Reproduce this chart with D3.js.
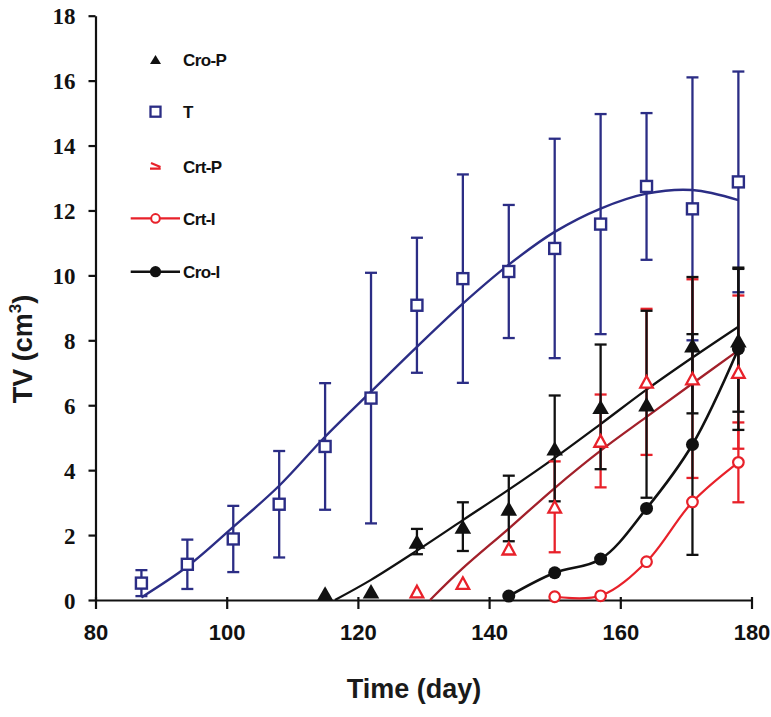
<!DOCTYPE html>
<html><head><meta charset="utf-8">
<script src="https://cdn.jsdelivr.net/npm/d3@7"></script>
<style>body{margin:0;background:#fff}svg{display:block}</style>
</head><body>
<script>
// ---------- data ----------
const xTicks = [80,100,120,140,160,180];
const yTicks = [0,2,4,6,8,10,12,14,16,18];

const tDays = [87,94,101,108,115,122,129,136,143,150,157,164,171,178];
const tMean = [0.52,1.1,1.88,2.95,4.73,6.22,9.08,9.9,10.12,10.83,11.58,12.74,12.05,12.88];
const tErr  = [0.4,0.76,1.02,1.64,1.95,3.86,2.08,3.21,2.05,3.38,3.39,2.26,4.05,3.4];
const tFitDays = [87,94,101,108,115,122,129,136,143,150,157,164,171,178];
const tFit     = [0.08,1.03,2.25,3.52,5.03,6.42,7.8,9.13,10.33,11.34,12.06,12.52,12.63,12.32];

const croPDays = [115,122,129,136,143,150,157,164,171,178];
const croPMean = [0.2,0.27,1.8,2.26,2.82,4.67,5.95,6.03,7.85,8.0];
const croPErr  = [0,0,0.39,0.75,1.01,1.63,1.92,2.88,2.1,2.2];
const croPFitDays = [116.5,122,129,136,143,150,157,164,171,178];
const croPFit     = [0,0.62,1.52,2.46,3.4,4.38,5.42,6.48,7.47,8.42];

const crtPDays = [129,136,143,150,157,164,171,178];
const crtPMean = [0.26,0.52,1.58,2.87,4.9,6.72,6.82,7.02];
const crtPErr  = [0,0,0,1.4,1.43,2.25,3.06,2.36];
const crtPFitDays = [131,136,143,150,157,164,171,178];
const crtPFit     = [0,0.98,2.2,3.45,4.6,5.64,6.67,7.69];

const croIDays = [143,150,157,164,171,178];
const croIMean = [0.12,0.84,1.26,2.82,4.79,7.74];
const croIErr  = [0,0,0,0,3.4,2.5];

const crtIDays = [150,157,164,171,178];
const crtIMean = [0.1,0.13,1.18,3.02,4.24];
const crtIErr  = [0,0,0,0,1.23];

const legendLabels = ["Cro-P","T","Crt-P","Crt-I","Cro-I"];

// ---------- styles ----------
const NAVY = "#2b2d85", RED = "#e8212a", DRED = "#a2202a", BLK = "#111";

const W = 771, H = 717;
const svg = d3.select("body").append("svg").attr("width", W).attr("height", H);
svg.append("rect").attr("width", W).attr("height", H).attr("fill", "#fff");

const x = d3.scaleLinear().domain([80,180]).range([95.5,751.5]);
const y = d3.scaleLinear().domain([0,18]).range([600,15.7]);

// axes
const xAxis = svg.append("g").attr("transform", "translate(0,600)")
  .call(d3.axisBottom(x).tickValues(xTicks).tickSize(9).tickSizeOuter(0).tickPadding(5));
xAxis.select(".domain").attr("stroke", BLK).attr("stroke-width", 2.2);
xAxis.selectAll(".tick line").attr("stroke", BLK).attr("stroke-width", 2.2).attr("y1", -3);
xAxis.selectAll(".tick text").attr("font-family", "Liberation Sans, Arial, sans-serif")
  .attr("font-weight", "bold").attr("font-size", 22).attr("fill", BLK).attr("dy", null).attr("y", 40);

const yAxis = svg.append("g").attr("transform", "translate(95.5,0)")
  .call(d3.axisLeft(y).tickValues(yTicks).tickSize(7).tickSizeOuter(0).tickPadding(13));
yAxis.select(".domain").attr("stroke", BLK).attr("stroke-width", 2.2);
yAxis.selectAll(".tick line").attr("stroke", BLK).attr("stroke-width", 2.2);
yAxis.selectAll(".tick text").attr("font-family", "Liberation Serif, Times New Roman, serif")
  .attr("font-weight", "bold").attr("font-size", 23).attr("fill", BLK).attr("dy", "0.36em");

// titles
svg.append("text").attr("x", 414).attr("y", 698).attr("text-anchor", "middle")
  .attr("font-family", "Liberation Sans, Arial, sans-serif").attr("font-weight", "bold")
  .attr("font-size", 27).attr("fill", "#1a1a1a").text("Time (day)");
const yt = svg.append("text").attr("transform", "translate(31.5,349) rotate(-90)")
  .attr("text-anchor", "middle").attr("font-family", "Liberation Sans, Arial, sans-serif")
  .attr("font-weight", "bold").attr("font-size", 27).attr("fill", "#1a1a1a");
yt.append("tspan").text("TV (cm");
yt.append("tspan").attr("font-size", 17).attr("dy", -11).text("3");
yt.append("tspan").attr("dy", 11).text(")");

// helpers
const zip = (a, b) => a.map((d, i) => [d, b[i]]);
const smooth = d3.line().x(d => x(d[0])).y(d => y(d[1])).curve(d3.curveCatmullRom.alpha(0.5));
const plot = svg.append("g");

function line(days, vals, color, w) {
  plot.append("path").attr("d", smooth(zip(days, vals))).attr("fill", "none")
    .attr("stroke", color).attr("stroke-width", w).attr("stroke-linejoin", "round");
}
function errBars(days, mean, err, color) {
  const g = plot.append("g").attr("stroke", color).attr("stroke-width", 2.3);
  days.forEach((d, i) => {
    if (!err[i]) return;
    const cx = x(d), t = y(mean[i] + err[i]), b = y(mean[i] - err[i]);
    g.append("line").attr("x1", cx).attr("x2", cx).attr("y1", t).attr("y2", b);
    g.append("line").attr("x1", cx - 6).attr("x2", cx + 6).attr("y1", t).attr("y2", t);
    g.append("line").attr("x1", cx - 6).attr("x2", cx + 6).attr("y1", b).attr("y2", b);
  });
}
const triPath = (hw, hh) => `M0,${-hh}L${hw},${hh}L${-hw},${hh}Z`;

// T series
line(tFitDays, tFit, NAVY, 2.4);
errBars(tDays, tMean, tErr, NAVY);
plot.append("g").selectAll("rect").data(zip(tDays, tMean)).join("rect")
  .attr("x", d => x(d[0]) - 5.5).attr("y", d => y(d[1]) - 5.5).attr("width", 11).attr("height", 11)
  .attr("fill", "#fff").attr("stroke", NAVY).attr("stroke-width", 2.4);

// trend lines
line(crtPFitDays, crtPFit, DRED, 2.3);
line(croPFitDays, croPFit, BLK, 2.3);
line(crtIDays, crtIMean, RED, 2.2);
line(croIDays, croIMean, BLK, 2.6);

// error bars
errBars(crtIDays, crtIMean, crtIErr, RED);
errBars(crtPDays, crtPMean, crtPErr, RED);
errBars(croIDays, croIMean, croIErr, BLK);
errBars(croPDays, croPMean, croPErr, BLK);

// markers
plot.append("g").selectAll("circle").data(zip(crtIDays, crtIMean)).join("circle")
  .attr("cx", d => x(d[0])).attr("cy", d => y(d[1])).attr("r", 5.3)
  .attr("fill", "#fff").attr("stroke", RED).attr("stroke-width", 2.2);
plot.append("g").selectAll("circle").data(zip(croIDays, croIMean)).join("circle")
  .attr("cx", d => x(d[0])).attr("cy", d => y(d[1])).attr("r", 6.5).attr("fill", BLK);
plot.append("g").selectAll("path").data(zip(crtPDays, crtPMean)).join("path")
  .attr("transform", d => `translate(${x(d[0])},${y(d[1])})`).attr("d", triPath(6.3, 5.8))
  .attr("fill", "#fff").attr("stroke", RED).attr("stroke-width", 2.3).attr("stroke-linejoin", "miter");
plot.append("g").selectAll("path").data(zip(croPDays, croPMean)).join("path")
  .attr("transform", d => `translate(${x(d[0])},${y(d[1])})`).attr("d", triPath(8.3, 7.2))
  .attr("fill", BLK);

// legend
const lg = svg.append("g");
const lx = 155.5, tx = 183, baselines = [66, 118.3, 172.7, 225, 278.3];
legendLabels.forEach((lab, i) => {
  lg.append("text").attr("x", tx).attr("y", baselines[i])
    .attr("font-family", "Liberation Sans, Arial, sans-serif").attr("font-weight", "bold")
    .attr("font-size", 17).attr("letter-spacing", -0.6).attr("fill", BLK).text(lab);
});
const my = baselines.map(b => b - 6.6);
lg.append("path").attr("transform", `translate(${lx},${my[0]})`).attr("d", triPath(5.5, 4.5)).attr("fill", BLK);
lg.append("rect").attr("x", lx - 5).attr("y", my[1] - 5).attr("width", 10).attr("height", 10)
  .attr("fill", "#fff").attr("stroke", NAVY).attr("stroke-width", 2.3);
lg.append("path").attr("transform", `translate(${lx},${my[2]})`)
  .attr("d", "M-4.5,-3 L5,0.8 M-5.5,2.6 L5.2,2.6").attr("fill", "none").attr("stroke", RED).attr("stroke-width", 2.2);
lg.append("line").attr("x1", 130.7).attr("x2", 180).attr("y1", my[3]).attr("y2", my[3]).attr("stroke", RED).attr("stroke-width", 2.2);
lg.append("circle").attr("cx", lx).attr("cy", my[3]).attr("r", 4.3).attr("fill", "#fff").attr("stroke", RED).attr("stroke-width", 2);
lg.append("line").attr("x1", 130.7).attr("x2", 180).attr("y1", my[4]).attr("y2", my[4]).attr("stroke", BLK).attr("stroke-width", 2.4);
lg.append("circle").attr("cx", lx).attr("cy", my[4]).attr("r", 5.6).attr("fill", BLK);
</script>
</body></html>
